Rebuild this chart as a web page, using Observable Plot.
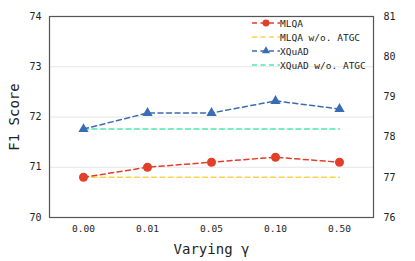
<!DOCTYPE html>
<html>
<head>
<meta charset="utf-8">
<script src="https://cdn.jsdelivr.net/npm/d3@7"></script>
<script src="https://cdn.jsdelivr.net/npm/@observablehq/plot@0.6"></script>
<style>
  html, body { margin: 0; padding: 0; background: #fff; }
  #wrap { position: relative; width: 415px; height: 261px; }
  #legend { position: absolute; left: 250px; top: 16px; font-family: "DejaVu Sans Mono", monospace; font-size: 9.5px; color: #222; }
  .row { display: flex; align-items: center; height: 14px; }
  .row svg { display: block; }
</style>
</head>
<body>
<div id="wrap"><div id="legend"></div></div>
<script>
const gammas = ["0.00", "0.01", "0.05", "0.10", "0.50"];
const mlqa = [70.8, 71.0, 71.1, 71.2, 71.1];
const mlqaBase = [70.8, 70.8, 70.8, 70.8, 70.8];
const xquad = [78.2, 78.6, 78.6, 78.9, 78.7];
const xquadBase = [78.2, 78.2, 78.2, 78.2, 78.2];
const leftTicks = [70, 71, 72, 73, 74];
const rightTicks = [76, 77, 78, 79, 80, 81];
const seriesNames = ["MLQA", "MLQA w/o. ATGC", "XQuAD", "XQuAD w/o. ATGC"];
const colors = ["#e23e29", "#ffd24d", "#3a6cb5", "#52e8ac"];
const symbols = ["circle", null, "triangle", null];

// right axis (76..81) mapped onto left axis (70..74)
const toLeft = r => 70 + (r - 76) * 0.8;

const rows = (vals, name, right) => gammas.map((g, i) => ({g, v: right ? toLeft(vals[i]) : vals[i], name}));
const dMlqa = rows(mlqa, seriesNames[0], false);
const dMlqaBase = rows(mlqaBase, seriesNames[1], false);
const dXquad = rows(xquad, seriesNames[2], true);
const dXquadBase = rows(xquadBase, seriesNames[3], true);

const mono = "DejaVu Sans Mono";
const dash = "5,3.5";

const chart = Plot.plot({
  width: 415,
  height: 261,
  marginLeft: 49,
  marginRight: 42,
  marginTop: 16,
  marginBottom: 44,
  style: {fontFamily: mono, background: "#fff"},
  x: {type: "point", domain: gammas, padding: 0.5},
  y: {domain: [70, 74]},
  marks: [
    Plot.gridY([71, 72, 73], {stroke: "#e6e6e6", strokeOpacity: 1, strokeWidth: 1}),
    Plot.axisY(leftTicks, {anchor: "left", tickSize: 0, tickPadding: 8, fontSize: 10, label: null, fill: "#222",
      tickFormat: d => String(d)}),
    Plot.axisY([], {anchor: "left", label: "F1 Score", labelArrow: "none", labelAnchor: "center", labelOffset: 40, fontSize: 14, fill: "#222"}),
    Plot.axisY(rightTicks.map(toLeft), {anchor: "right", tickSize: 0, tickPadding: 10, fontSize: 10, label: null, fill: "#222",
      tickFormat: d => String(Math.round((d - 70) / 0.8 + 76))}),
    Plot.axisX({tickSize: 0, tickPadding: 8, fontSize: 9.5, label: null, fill: "#222"}),
    Plot.axisX([], {label: "Varying γ", labelArrow: "none", labelAnchor: "center", labelOffset: 36, fontSize: 14, fill: "#222"}),
    Plot.line(dMlqaBase, {x: "g", y: "v", stroke: colors[1], strokeWidth: 1.5, strokeDasharray: dash}),
    Plot.line(dXquadBase, {x: "g", y: "v", stroke: colors[3], strokeWidth: 1.5, strokeDasharray: dash}),
    Plot.line(dMlqa, {x: "g", y: "v", stroke: colors[0], strokeWidth: 1.5, strokeDasharray: dash}),
    Plot.line(dXquad, {x: "g", y: "v", stroke: colors[2], strokeWidth: 1.5, strokeDasharray: dash}),
    Plot.dot(dMlqa, {x: "g", y: "v", fill: colors[0], r: 4.5, symbol: "circle"}),
    Plot.dot(dXquad, {x: "g", y: "v", fill: colors[2], r: 3.8, symbol: "triangle"}),
    Plot.frame({stroke: "#555", strokeWidth: 1.2})
  ]
});
document.getElementById("wrap").prepend(chart);

// legend
const legend = d3.select("#legend");
seriesNames.forEach((name, i) => {
  const row = legend.append("div").attr("class", "row");
  const svg = row.append("svg").attr("width", 30).attr("height", 14);
  svg.append("line").attr("x1", 2).attr("x2", 30).attr("y1", 7).attr("y2", 7)
    .attr("stroke", colors[i]).attr("stroke-width", 1.5).attr("stroke-dasharray", "5,3.5");
  if (symbols[i]) {
    svg.append("path").attr("transform", "translate(16,7)")
      .attr("d", d3.symbol(symbols[i] === "circle" ? d3.symbolCircle : d3.symbolTriangle, symbols[i] === "circle" ? 38 : 28)())
      .attr("fill", colors[i]);
  }
  row.append("span").text(name);
});
</script>
</body>
</html>
